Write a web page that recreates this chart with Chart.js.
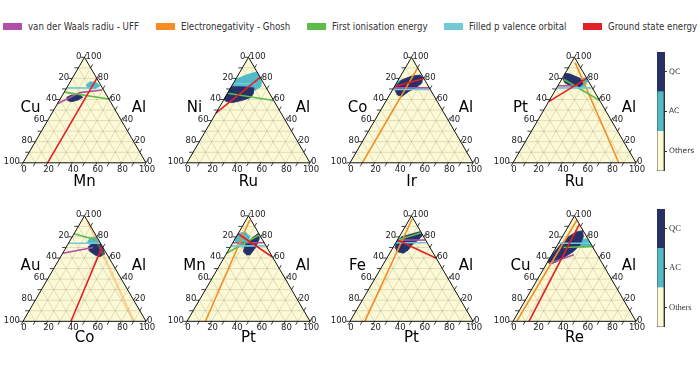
<!DOCTYPE html>
<html>
<head>
<meta charset="utf-8">
<script src="https://cdn.jsdelivr.net/npm/chart.js@4.4.0/dist/chart.umd.min.js"></script>
<style>
  body { margin: 0; width: 700px; height: 367px; background: #fff; position: relative; overflow: hidden; font-family: 'DejaVu Sans', sans-serif; }
  canvas { position: absolute; }
  .legend-item { position: absolute; top: 21px; height: 12px; line-height: 12px; font-family: 'Liberation Sans Narrow', 'DejaVu Sans Condensed', sans-serif; font-size: 9.6px; color: #333; white-space: nowrap; }
  .legend-item span { display: inline-block; width: 19px; height: 7px; margin-right: 6px; vertical-align: 0px; }
</style>
</head>
<body>
<div id="legend"></div>
<script>
// ---- data ----
// composition points are [bottom element %, Al %]; the left element is the rest
const seriesNames = ['van der Waals radiu - UFF', 'Electronegativity - Ghosh', 'First ionisation energy', 'Filled p valence orbital', 'Ground state energy'];
const seriesColors = ['#b04fa6', '#f58d22', '#5ebd48', '#71c9d8', '#e41f26'];
const legendLeft = [3, 156, 307, 444, 583];

const leftElements = ['Cu', 'Ni', 'Co', 'Pt', 'Au', 'Mn', 'Fe', 'Cu'];
const rightElements = ['Al', 'Al', 'Al', 'Al', 'Al', 'Al', 'Al', 'Al'];
const bottomElements = ['Mn', 'Ru', 'Ir', 'Ru', 'Co', 'Pt', 'Pt', 'Re'];
const tickValues = [0, 20, 40, 60, 80, 100];
const minorTicks = [0, 10, 20, 30, 40, 50, 60, 70, 80, 90, 100];

const phaseLabels = ['Others', 'AC', 'QC'];
const phaseColors = ['#fcfad6', '#52b9c9', '#24316b'];

const triangleCorners = [[0, 0], [100, 0], [0, 100]];

const vdwRadius = [
  [[0, 56], [13, 66.5], [30, 69]],
  null,
  [[0, 71], [29, 71]],
  [[0, 73], [16, 73]],
  [[0, 64.5], [22, 70]],
  [[0, 74.5], [25.5, 74.5]],
  [[0, 77], [23, 77]],
  [[2, 55], [10, 59], [18, 63]]
];
const electronegativity = [
  null,
  null,
  [[10, 0], [10, 90]],
  [[86, 0], [3, 95]],
  [[90, 0], [5, 95]],
  [[15, 0], [3, 96]],
  [[12, 0], [2, 97]],
  [[3, 0], [4, 96]]
];
const ionisation = [
  [[0, 67], [39.5, 60.5]],
  [[0, 66], [41, 59]],
  null,
  [[2, 79], [41, 59]],
  [[0, 83], [21, 77]],
  [[0, 64.5], [18, 82]],
  [[0, 77], [16, 84]],
  [[6, 70], [29, 71]]
];
const filledP = [
  [[0, 71], [22, 71]],
  [[0, 75], [18, 75]],
  [[0, 69.5], [30, 69.5]],
  [[0, 71], [28, 71]],
  [[0, 74], [26, 74]],
  [[0, 71.5], [28, 71.5]],
  [[0, 74.5], [25.5, 74.5]],
  [[0, 74], [26, 74]]
];
const groundState = [
  [[20, 0], [20, 80]],
  [[0, 47], [19, 81]],
  [[0, 72], [20, 80]],
  [[0, 58], [20, 80]],
  [[39, 0], [29, 71]],
  [[0, 83], [38.5, 61.2]],
  [[0, 77], [40.3, 59.7]],
  [[13, 0], [8, 92]]
];
const seriesData = [vdwRadius, electronegativity, ionisation, filledP, groundState];

const acRegions = [
  [[14.3, 73.8], [16.1, 76.9], [21.9, 75.9], [26.2, 72.8], [23.4, 70.2], [17.8, 70.6]],
  [[0, 66], [0, 79], [6, 83], [13, 86], [16, 84], [22, 77], [24, 72], [20, 68], [10, 67]],
  [[0, 71], [0, 77], [3, 78.5], [6, 76], [4, 72]],
  [[16, 80], [19, 80.5], [22, 77], [22, 72], [18, 72]],
  [[15, 74], [15, 79], [19.5, 80], [22, 77.5], [26, 73.5], [21, 72]],
  [[0, 77], [0, 83], [4.7, 85], [11.1, 80.2], [12.3, 72.3], [5.5, 72.3]],
  [[0, 72], [0, 78], [5, 80], [10, 77], [6, 72]],
  [[18, 78], [22, 78], [28, 71.5], [22, 70], [17, 72]]
];
const qcRegions = [
  [[4.5, 62.1], [7.5, 64.3], [14.2, 64.3], [17.5, 62.1], [15.2, 59.5], [10.6, 57.9], [6.9, 58.9]],
  [[0, 72], [10, 72], [19, 71], [21, 66], [21, 62], [15, 59], [8, 57], [3, 58], [0, 60]],
  [[0.5, 72.1], [2.7, 78.5], [9.1, 82.3], [15.3, 83.2], [18.6, 81.1], [20.6, 75.4], [17.5, 70.6], [13.7, 67.4], [10.7, 62.7], [6.4, 64.3], [2.1, 69]],
  [[1.3, 79.2], [0, 84.8], [4.2, 84.2], [14.5, 80.1], [19.5, 75.4], [18.4, 72.1], [11.6, 72.1], [4.3, 75.9]],
  [[17.7, 70.7], [20.2, 73.9], [26.5, 73.3], [30, 69.5], [34.5, 63.8], [32, 61.2], [27.1, 62.9], [20.6, 66.6]],
  [[17.1, 62.9], [12.8, 65.9], [11, 72.3], [13.3, 78.7], [16.3, 83.4], [19.5, 78.7], [20.5, 72.3], [20.7, 69.2], [19.8, 62.9]],
  [[1, 73.9], [1.9, 80.2], [8.8, 82.8], [14.4, 85], [18.2, 81.8], [17, 77.1], [14, 72.3], [13.6, 67.6], [11.1, 64.5], [5.5, 66], [1.5, 70.2]],
  [[0, 56.5], [0.6, 64.5], [2.6, 73.9], [4.9, 80.2], [9.3, 84.9], [13.7, 85.9], [17.1, 80.2], [18.3, 72.3], [16, 66], [11.7, 61.2], [7.2, 56.5], [3, 54.1]]
];

// ---- layout ----
const TRI_W = 123, TRI_H = 105.5;
const COL_LEFT = [23, 187, 350, 513];
const ROW_TOP = [40, 195], ROW_H = [150, 160], ROW_BASE = [162.8, 321.3];
const BOTTOM_LABEL_DY = [19, 16.5];
const CANVAS_W = 163, TRI_OFFSET = 23;

// ternary -> cartesian (x along the base, y as fraction of height)
function toXY(points) {
  return points.map(([m, a]) => ({ x: (m + a / 2) / 100, y: a / 100 }));
}
function closed(points) {
  return points.concat([points[0]]);
}

// legend
const legendEl = document.getElementById('legend');
seriesNames.forEach((name, i) => {
  const item = document.createElement('div');
  item.className = 'legend-item';
  item.style.left = legendLeft[i] + 'px';
  item.innerHTML = '<span style="background:' + seriesColors[i] + '"></span>' + name;
  legendEl.appendChild(item);
});

// grid, frame, ticks and labels for each ternary panel
const ternaryAxes = {
  id: 'ternaryAxes',
  afterDatasetDraw(chart, args) {
    if (chart.data.datasets[args.index].id !== 'others') return;
    const { ctx, scales: { x, y } } = chart;
    const P = (m, a) => [x.getPixelForValue((m + a / 2) / 100), y.getPixelForValue(a / 100)];
    ctx.save();
    ctx.strokeStyle = 'rgba(150, 140, 105, 0.45)';
    ctx.lineWidth = 0.6;
    ctx.beginPath();
    for (let v = 10; v < 100; v += 10) {
      let p = P(v, 0), q = P(v, 100 - v);
      ctx.moveTo(p[0], p[1]); ctx.lineTo(q[0], q[1]);
      p = P(0, v); q = P(100 - v, v);
      ctx.moveTo(p[0], p[1]); ctx.lineTo(q[0], q[1]);
      p = P(v, 0); q = P(0, v);
      ctx.moveTo(p[0], p[1]); ctx.lineTo(q[0], q[1]);
    }
    ctx.stroke();
    ctx.restore();
  },
  afterDatasetsDraw(chart, args, opts) {
    const { ctx, scales: { x, y } } = chart;
    const P = (m, a) => [x.getPixelForValue((m + a / 2) / 100), y.getPixelForValue(a / 100)];
    const i = opts.panel;
    ctx.save();
    // frame
    ctx.strokeStyle = '#111';
    ctx.lineWidth = 1;
    ctx.beginPath();
    triangleCorners.forEach(([m, a], k) => {
      const p = P(m, a);
      k ? ctx.lineTo(p[0], p[1]) : ctx.moveTo(p[0], p[1]);
    });
    ctx.closePath();
    ctx.stroke();
    // ticks
    ctx.lineWidth = 0.8;
    ctx.beginPath();
    minorTicks.forEach(v => {
      let p = P(v, 0);
      ctx.moveTo(p[0], p[1]); ctx.lineTo(p[0] - 2, p[1] + 3.5);
      p = P(0, 100 - v);
      ctx.moveTo(p[0], p[1]); ctx.lineTo(p[0] - 4, p[1]);
      p = P(100 - v, v);
      ctx.moveTo(p[0], p[1]); ctx.lineTo(p[0] + 2, p[1] - 3.5);
    });
    ctx.stroke();
    // tick labels
    ctx.fillStyle = '#222';
    ctx.font = '8.5px "DejaVu Sans"';
    ctx.textBaseline = 'middle';
    tickValues.forEach(v => {
      let p = P(0, 100 - v);
      ctx.textAlign = 'right';
      ctx.fillText(String(v), p[0] - 3, p[1] - 1);
      p = P(100 - v, v);
      ctx.textAlign = 'left';
      ctx.fillText(String(v), p[0] + 1, p[1] - 1);
      p = P(v, 0);
      ctx.textAlign = 'center';
      ctx.fillText(String(v), p[0] + 1, p[1] + 6.5);
    });
    // element names
    ctx.fillStyle = '#000';
    ctx.font = '15px "DejaVu Sans"';
    ctx.textAlign = 'center';
    const bl = P(0, 0), br = P(100, 0);
    const midY = bl[1] - 55;
    ctx.fillText(leftElements[i], bl[0] + 7.5, midY);
    ctx.fillText(rightElements[i], bl[0] + 116, midY);
    ctx.fillText(bottomElements[i], (bl[0] + br[0]) / 2, bl[1] + opts.bottomDy);
    ctx.restore();
  }
};

function makePanel(i) {
  const row = Math.floor(i / 4), col = i % 4;
  const canvas = document.createElement('canvas');
  canvas.width = CANVAS_W;
  canvas.height = ROW_H[row];
  canvas.style.left = (COL_LEFT[col] - TRI_OFFSET) + 'px';
  canvas.style.top = ROW_TOP[row] + 'px';
  document.body.appendChild(canvas);
  const baseLocal = ROW_BASE[row] - ROW_TOP[row];

  const datasets = [{
    id: 'others',
    data: toXY(closed(triangleCorners)),
    showLine: true,
    fill: 'shape',
    backgroundColor: phaseColors[0],
    borderWidth: 0,
    order: 10
  }];
  if (acRegions[i]) {
    datasets.push({
      data: toXY(closed(acRegions[i])), showLine: true, fill: 'shape',
      backgroundColor: phaseColors[1], borderColor: phaseColors[1], borderWidth: 0.8, order: 9
    });
  }
  if (qcRegions[i]) {
    datasets.push({
      data: toXY(closed(qcRegions[i])), showLine: true, fill: 'shape',
      backgroundColor: phaseColors[2], borderColor: phaseColors[2], borderWidth: 0.8, order: 8
    });
  }
  seriesData.forEach((series, s) => {
    const pts = series[i];
    if (!pts) return;
    // the orange line in the Au-Al-Co panel is drawn pale
    const faint = i === 4 && s === 1;
    datasets.push({
      data: toXY(pts), showLine: true, fill: false,
      borderColor: faint ? 'rgba(245, 141, 34, 0.35)' : seriesColors[s],
      borderWidth: faint ? 2.5 : 1.6,
      order: 5 - s
    });
  });

  new Chart(canvas, {
    type: 'scatter',
    data: { datasets },
    options: {
      responsive: false,
      animation: false,
      events: [],
      layout: { padding: 0 },
      elements: { point: { radius: 0 }, line: { tension: 0 } },
      plugins: {
        legend: { display: false },
        tooltip: { enabled: false },
        ternaryAxes: { panel: i, bottomDy: BOTTOM_LABEL_DY[row] }
      },
      scales: {
        x: { type: 'linear', display: false, min: -TRI_OFFSET / TRI_W, max: (CANVAS_W - TRI_OFFSET) / TRI_W },
        y: { type: 'linear', display: false, min: -(ROW_H[row] - baseLocal) / TRI_H, max: baseLocal / TRI_H }
      }
    },
    plugins: [ternaryAxes]
  });
}

const colorbarOutline = {
  id: 'colorbarOutline',
  afterDraw(chart) {
    const { ctx, chartArea: a } = chart;
    ctx.save();
    ctx.strokeStyle = '#333';
    ctx.lineWidth = 0.8;
    ctx.strokeRect(a.left, a.top, a.right - a.left, a.bottom - a.top);
    ctx.restore();
  }
};

function makeColorbar(top, height, font) {
  const canvas = document.createElement('canvas');
  canvas.width = 45;
  canvas.height = height;
  canvas.style.left = '657px';
  canvas.style.top = top + 'px';
  document.body.appendChild(canvas);
  new Chart(canvas, {
    type: 'bar',
    data: {
      labels: [''],
      datasets: phaseLabels.map((name, k) => ({
        label: name, data: [1], backgroundColor: phaseColors[k], borderWidth: 0,
        barPercentage: 1, categoryPercentage: 1
      }))
    },
    options: {
      responsive: false,
      animation: false,
      events: [],
      layout: { padding: 0 },
      plugins: { legend: { display: false }, tooltip: { enabled: false } },
      scales: {
        x: { stacked: true, display: false },
        y: {
          stacked: true, position: 'right', min: 0, max: phaseLabels.length,
          afterBuildTicks: scale => { scale.ticks = phaseLabels.map((_, k) => ({ value: k + 0.5 })); },
          afterFit: scale => { scale.width = 38; scale.paddingTop = 0; scale.paddingBottom = 0; },
          ticks: { callback: v => phaseLabels[Math.floor(v)], font: font, color: '#333', padding: 2 },
          grid: { drawOnChartArea: false, tickLength: 3, color: '#333' },
          border: { display: true, color: '#333' }
        }
      }
    },
    plugins: [colorbarOutline]
  });
}

for (let i = 0; i < 8; i++) makePanel(i);
makeColorbar(52, 119, { family: 'DejaVu Sans', size: 7.5 });
makeColorbar(209, 118, { family: 'Liberation Serif', size: 8.5 });
</script>
</body>
</html>
